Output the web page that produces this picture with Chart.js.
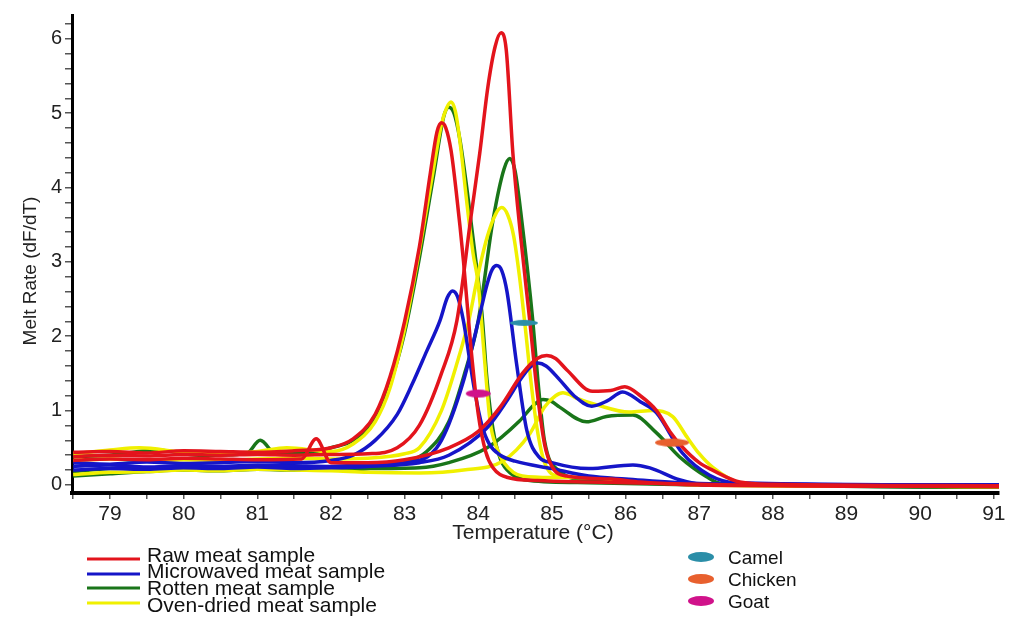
<!DOCTYPE html>
<html>
<head>
<meta charset="utf-8">
<script src="https://cdn.jsdelivr.net/npm/chart.js"></script>
<style>
  html, body { margin: 0; padding: 0; background: #fff; }
  #wrap { width: 1009px; height: 618px; }
</style>
</head>
<body>
<div id="wrap"><canvas id="meltChart" width="1009" height="618"></canvas></div>
<script>
// melt curves (temperature in degC, melt rate dF/dT)
const rawGoatT = [78.5, 79.0, 79.5, 80.0, 80.5, 81.0, 81.5, 82.0, 82.3, 82.6, 82.8, 83.0, 83.2, 83.35, 83.44, 83.5, 83.56, 83.63, 83.7, 83.8, 83.9, 84.0, 84.1, 84.2, 84.4, 84.8, 85.5, 86.5, 87.5, 91.1];
const rawGoatY = [0.44, 0.45, 0.43, 0.46, 0.45, 0.44, 0.46, 0.5, 0.62, 0.95, 1.45, 2.2, 3.2, 4.2, 4.75, 4.87, 4.8, 4.5, 3.95, 3.0, 1.85, 0.95, 0.45, 0.23, 0.1, 0.06, 0.04, 0.02, 0.0, -0.02];
const rawCamelT = [78.5, 79.0, 79.5, 80.0, 80.5, 81.0, 81.5, 82.0, 82.5, 82.9, 83.2, 83.5, 83.71, 83.9, 84.02, 84.13, 84.23, 84.31, 84.38, 84.47, 84.58, 84.7, 84.8, 84.9, 85.0, 85.2, 85.8, 86.2, 87.0, 91.1];
const rawCamelY = [0.38, 0.4, 0.39, 0.41, 0.4, 0.41, 0.4, 0.41, 0.42, 0.5, 0.8, 1.5, 2.21, 3.6, 4.46, 5.35, 5.9, 6.08, 5.85, 4.46, 3.3, 2.2, 1.25, 0.55, 0.25, 0.12, 0.08, 0.04, 0.0, -0.02];
const rawChickenT = [78.5, 79.0, 79.5, 80.0, 80.5, 81.0, 81.6, 81.8, 82.0, 82.5, 83.0, 83.6, 84.0, 84.3, 84.6, 84.8, 84.93, 85.05, 85.2, 85.55, 85.8, 85.99, 86.2, 86.42, 86.6, 86.77, 87.0, 87.18, 87.55, 88.0, 91.1];
const rawChickenY = [0.33, 0.35, 0.34, 0.36, 0.35, 0.34, 0.35, 0.62, 0.3, 0.3, 0.34, 0.5, 0.72, 1.05, 1.5, 1.7, 1.74, 1.7, 1.55, 1.26, 1.27, 1.32, 1.2, 1.0, 0.72, 0.51, 0.3, 0.2, 0.04, 0.01, -0.01];

const microGoatT = [78.5, 79.0, 79.5, 80.0, 80.5, 81.0, 81.5, 82.0, 82.3, 82.6, 82.9, 83.1, 83.3, 83.48, 83.58, 83.65, 83.72, 83.8, 83.88, 83.95, 84.05, 84.15, 84.3, 84.5, 85.0, 85.5, 86.0, 87.0, 91.1];
const microGoatY = [0.3, 0.28, 0.31, 0.29, 0.3, 0.32, 0.3, 0.33, 0.4, 0.6, 0.95, 1.35, 1.8, 2.21, 2.52, 2.61, 2.53, 2.2, 1.7, 1.27, 0.8, 0.55, 0.4, 0.32, 0.22, 0.12, 0.08, 0.02, 0.0];
const microCamelT = [78.5, 79.0, 79.5, 80.0, 80.5, 81.0, 81.5, 82.0, 82.5, 83.2, 83.5, 83.8, 84.0, 84.12, 84.19, 84.25, 84.32, 84.39, 84.52, 84.66, 84.83, 85.0, 85.5, 86.1, 86.33, 86.73, 87.1, 91.1];
const microCamelY = [0.25, 0.27, 0.24, 0.26, 0.25, 0.27, 0.26, 0.25, 0.27, 0.33, 0.6, 1.4, 2.2, 2.7, 2.9, 2.95, 2.88, 2.6, 1.63, 0.73, 0.37, 0.3, 0.22, 0.27, 0.23, 0.07, 0.0, 0.0];
const microChickenT = [78.5, 79.0, 79.5, 80.0, 80.5, 81.0, 81.5, 82.0, 82.5, 83.2, 83.6, 84.12, 84.4, 84.56, 84.7, 84.81, 84.92, 85.1, 85.3, 85.54, 85.75, 85.96, 86.2, 86.42, 86.77, 87.14, 87.5, 91.1];
const microChickenY = [0.2, 0.22, 0.21, 0.23, 0.22, 0.24, 0.22, 0.23, 0.25, 0.3, 0.4, 0.77, 1.15, 1.4, 1.58, 1.64, 1.6, 1.42, 1.2, 1.06, 1.13, 1.25, 1.12, 0.97, 0.43, 0.13, 0.03, 0.0];

const rottenGoatT = [78.5, 79.0, 79.64, 80.2, 80.85, 81.04, 81.25, 81.8, 82.0, 82.3, 82.6, 82.8, 83.0, 83.2, 83.4, 83.53, 83.6, 83.67, 83.75, 83.85, 83.95, 84.05, 84.12, 84.2, 84.3, 84.45, 84.7, 85.5, 87.0, 91.1];
const rottenGoatY = [0.38, 0.4, 0.47, 0.4, 0.42, 0.6, 0.42, 0.45, 0.5, 0.6, 0.9, 1.35, 2.05, 3.05, 4.2, 4.95, 5.08, 5.0, 4.65, 3.95, 3.15, 2.3, 1.4, 0.75, 0.35, 0.15, 0.06, 0.03, 0.0, -0.03];
const rottenCamelT = [78.5, 79.0, 79.5, 80.0, 80.5, 81.0, 81.5, 82.0, 82.5, 83.0, 83.3, 83.6, 83.8, 84.0, 84.2, 84.35, 84.43, 84.5, 84.59, 84.74, 84.81, 84.9, 85.1, 85.5, 86.5, 91.1];
const rottenCamelY = [0.12, 0.15, 0.18, 0.2, 0.19, 0.21, 0.2, 0.2, 0.22, 0.3, 0.45, 0.85, 1.45, 2.21, 3.56, 4.25, 4.39, 4.22, 3.56, 2.21, 1.4, 0.59, 0.19, 0.06, 0.02, -0.03];
const rottenChickenT = [78.5, 79.0, 79.5, 80.0, 80.5, 81.0, 81.5, 82.0, 82.5, 83.2, 83.6, 84.12, 84.56, 84.76, 84.88, 85.0, 85.1, 85.47, 85.74, 86.1, 86.42, 86.73, 87.1, 87.3, 91.1];
const rottenChickenY = [0.18, 0.22, 0.23, 0.25, 0.24, 0.25, 0.24, 0.22, 0.22, 0.23, 0.3, 0.5, 0.86, 1.08, 1.15, 1.12, 1.05, 0.85, 0.92, 0.94, 0.7, 0.38, 0.11, 0.02, -0.03];

const ovenGoatT = [78.5, 79.0, 79.4, 80.0, 80.5, 81.0, 81.4, 82.0, 82.3, 82.6, 82.8, 83.0, 83.2, 83.4, 83.5, 83.57, 83.63, 83.69, 83.76, 83.85, 83.93, 84.0, 84.08, 84.16, 84.25, 84.35, 84.6, 85.0, 85.6, 86.2, 87.0, 91.1];
const ovenGoatY = [0.42, 0.47, 0.5, 0.44, 0.42, 0.45, 0.5, 0.45, 0.55, 0.85, 1.3, 2.1, 3.15, 4.3, 4.85, 5.07, 5.15, 5.02, 4.55, 3.75, 3.11, 2.7, 1.75, 0.86, 0.5, 0.3, 0.12, 0.1, 0.1, 0.05, 0.0, -0.02];
const ovenCamelT = [78.5, 79.0, 79.5, 80.0, 80.5, 81.0, 81.5, 82.0, 82.5, 83.0, 83.2, 83.5, 83.7, 83.88, 83.98, 84.12, 84.24, 84.32, 84.4, 84.48, 84.56, 84.64, 84.72, 84.8, 84.9, 85.1, 85.5, 86.0, 87.0, 91.1];
const ovenCamelY = [0.33, 0.35, 0.32, 0.34, 0.33, 0.35, 0.36, 0.35, 0.36, 0.42, 0.5, 1.0, 1.6, 2.25, 2.75, 3.33, 3.65, 3.73, 3.63, 3.35, 2.8, 2.1, 1.35, 0.75, 0.3, 0.12, 0.1, 0.06, 0.01, -0.02];
const ovenChickenT = [78.5, 79.0, 79.5, 80.0, 80.5, 81.0, 81.5, 82.0, 82.5, 83.2, 83.8, 84.33, 84.7, 84.9, 85.05, 85.15, 85.25, 85.35, 85.6, 86.05, 86.37, 86.64, 86.83, 87.0, 87.18, 87.55, 88.0, 91.1];
const ovenChickenY = [0.14, 0.17, 0.18, 0.2, 0.19, 0.21, 0.2, 0.19, 0.17, 0.16, 0.2, 0.32, 0.69, 1.05, 1.2, 1.24, 1.21, 1.16, 1.08, 0.98, 1.0, 0.92, 0.65, 0.42, 0.24, 0.03, 0.0, -0.02];

// species peak markers
const speciesNames = ['Camel', 'Chicken', 'Goat'];
const speciesTemps = [84.62, 86.63, 84.0];
const speciesRates = [2.18, 0.57, 1.23];

const sampleNames = ['Raw meat sample', 'Microwaved meat sample', 'Rotten meat sample', 'Oven-dried meat sample'];

const RED = '#e3141c', BLUE = '#1515c8', GREEN = '#197519', YELLOW = '#f0f000';
const sampleColors = [RED, BLUE, GREEN, YELLOW];
const speciesColors = ['#2b8ea8', '#e8602e', '#d0128a'];
const markerSizes = [[28, 6], [34, 8], [25, 8]];

function pts(t, y) { return t.map((v, i) => ({ x: v, y: y[i] })); }

function ellipseImg(w, h, color) {
  const c = document.createElement('canvas');
  c.width = w + 2; c.height = h + 2;
  const g = c.getContext('2d');
  g.fillStyle = color;
  g.beginPath();
  g.ellipse(c.width / 2, c.height / 2, w / 2, h / 2, 0, 0, Math.PI * 2);
  g.fill();
  return c;
}

function curve(t, y, color) {
  return {
    data: pts(t, y),
    borderColor: color,
    borderWidth: 3.5,
    pointRadius: 0,
    fill: false,
    cubicInterpolationMode: 'monotone'
  };
}

const datasets = [
  {
    data: pts(speciesTemps, speciesRates),
    showLine: false,
    pointStyle: speciesColors.map((c, i) => ellipseImg(markerSizes[i][0], markerSizes[i][1], c)),
    pointRadius: 10,
    backgroundColor: speciesColors,
    borderWidth: 0
  },
  curve(rawGoatT, rawGoatY, RED),
  curve(rawCamelT, rawCamelY, RED),
  curve(rawChickenT, rawChickenY, RED),
  curve(microGoatT, microGoatY, BLUE),
  curve(microCamelT, microCamelY, BLUE),
  curve(microChickenT, microChickenY, BLUE),
  curve(ovenGoatT, ovenGoatY, YELLOW),
  curve(ovenCamelT, ovenCamelY, YELLOW),
  curve(ovenChickenT, ovenChickenY, YELLOW),
  curve(rottenGoatT, rottenGoatY, GREEN),
  curve(rottenCamelT, rottenCamelY, GREEN),
  curve(rottenChickenT, rottenChickenY, GREEN)
];

// axis titles and the two legends, drawn outside the plot box
const decorations = {
  id: 'decorations',
  afterDraw(chart) {
    const ctx = chart.ctx;
    ctx.save();
    ctx.fillStyle = '#222';

    ctx.font = '19px "Liberation Sans", Arial, sans-serif';
    ctx.textAlign = 'center';
    ctx.textBaseline = 'middle';
    ctx.save();
    ctx.translate(31, 271);
    ctx.rotate(-Math.PI / 2);
    ctx.fillText('Melt Rate (dF/dT)', 0, 0);
    ctx.restore();

    ctx.font = '21px "Liberation Sans", Arial, sans-serif';
    ctx.fillText('Temperature (\u00B0C)', 533, 533);

    // sample legend
    const lineY = [559, 574, 588, 603];
    const textY = [562, 578, 595, 612];
    ctx.textAlign = 'left';
    ctx.textBaseline = 'alphabetic';
    ctx.font = '21px "Liberation Sans", Arial, sans-serif';
    sampleNames.forEach((name, i) => {
      ctx.strokeStyle = sampleColors[i];
      ctx.lineWidth = 3;
      ctx.beginPath();
      ctx.moveTo(87, lineY[i]);
      ctx.lineTo(140, lineY[i]);
      ctx.stroke();
      ctx.fillStyle = '#111';
      ctx.fillText(name, 147, textY[i]);
    });

    // species legend
    const rowY = [557, 579, 601];
    ctx.font = '19px "Liberation Sans", Arial, sans-serif';
    ctx.textBaseline = 'middle';
    speciesNames.forEach((name, i) => {
      ctx.fillStyle = speciesColors[i];
      ctx.beginPath();
      ctx.ellipse(701, rowY[i], 13, 5, 0, 0, Math.PI * 2);
      ctx.fill();
      ctx.fillStyle = '#111';
      ctx.fillText(name, 728, rowY[i] + 2);
    });
    ctx.restore();
  }
};

function wholeOnly(v) {
  return Math.abs(v - Math.round(v)) < 1e-6 ? String(Math.round(v)) : '';
}

new Chart(document.getElementById('meltChart'), {
  type: 'line',
  data: { datasets: datasets },
  plugins: [decorations],
  options: {
    responsive: false,
    animation: false,
    layout: { padding: { left: 0, right: 9, top: 15, bottom: 0 } },
    plugins: { legend: { display: false }, tooltip: { enabled: false } },
    scales: {
      x: {
        type: 'linear',
        min: 78.484,
        max: 91.07,
        afterFit: s => { s.height = 125; },
        border: { color: '#000', width: 4 },
        grid: { drawOnChartArea: false, drawTicks: true, tickLength: 6, color: '#555', lineWidth: 1.5 },
        ticks: {
          stepSize: 0.5,
          includeBounds: false,
          autoSkip: false,
          maxRotation: 0,
          padding: 3,
          color: '#222',
          font: { family: '"Liberation Sans", Arial, sans-serif', size: 21 },
          callback: wholeOnly
        }
      },
      y: {
        min: -0.108,
        max: 6.32,
        afterFit: s => { s.width = 72; },
        border: { color: '#000', width: 3 },
        grid: { drawOnChartArea: false, drawTicks: true, tickLength: 7, color: '#555', lineWidth: 1.5 },
        ticks: {
          stepSize: 0.2,
          includeBounds: false,
          autoSkip: false,
          padding: 3,
          color: '#222',
          font: { family: '"Liberation Sans", Arial, sans-serif', size: 20 },
          callback: wholeOnly
        }
      }
    }
  }
});
</script>
</body>
</html>
